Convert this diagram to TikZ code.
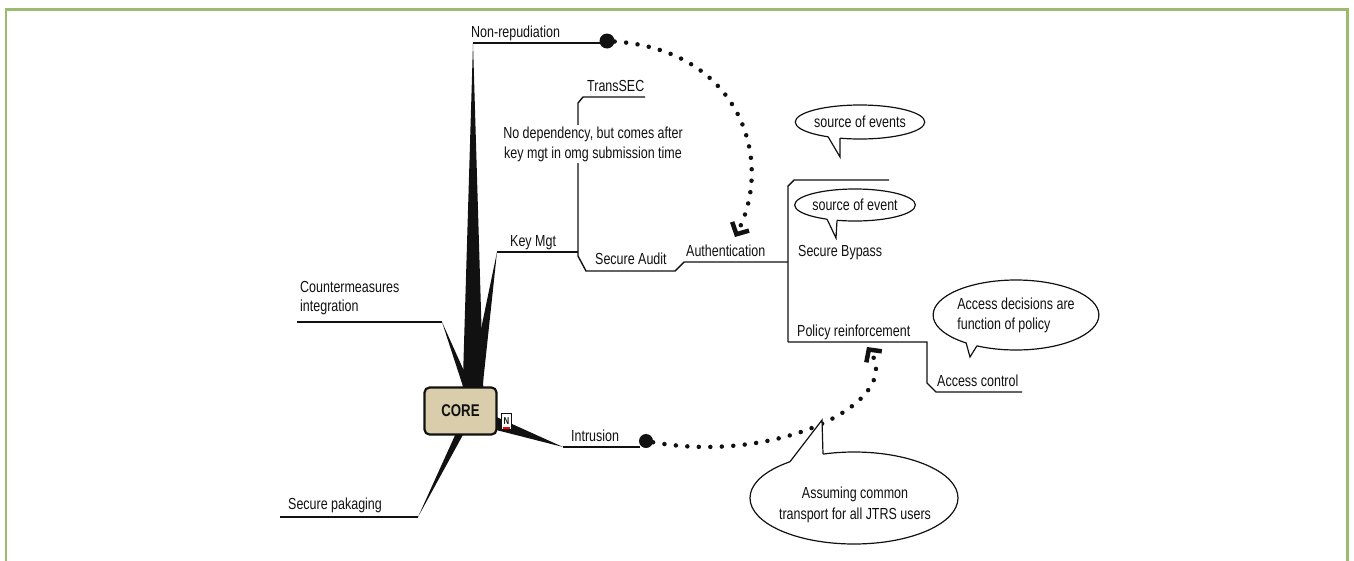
\documentclass[tikz,border=0pt]{standalone}
\usepackage{fontspec}
\setmainfont{Liberation Sans}[FakeStretch=0.78]
\usetikzlibrary{arrows.meta,shapes.geometric}
\definecolor{framegreen}{HTML}{9DBB6E}
\definecolor{coretan}{HTML}{D9CDAC}
\definecolor{ink}{HTML}{111111}
\begin{document}
\begin{tikzpicture}[x=1pt,y=-1pt,
  every node/.style={inner sep=0pt, text=ink},
  lbl/.style={anchor=base west, font=\fontsize{16}{20}\selectfont},
  branch/.style={draw=ink, line width=1.4pt},
  wedgefill/.style={fill=ink},
  dotline/.style={draw=ink, line width=4.5pt, line cap=round, dash pattern=on 0pt off 11.5pt},
  arrowL/.style={-{Straight Barb[length=9pt, width=19pt, line width=4.5pt]}},
  bubble/.style={ellipse, draw=ink, line width=1.2pt, fill=white, font=\fontsize{16}{20}\selectfont},
  tailfill/.style={fill=white},
  tailline/.style={draw=ink, line width=1.2pt},
  bigdot/.style={circle, fill=ink, minimum size=15pt},
]
\useasboundingbox (0,0) rectangle (1354,560);
\draw[framegreen, line width=2.6pt] (6,9.5) rectangle (1347.5,640);

% branch points
\coordinate (nrP) at (473,43);
\coordinate (nrE) at (600,43);
\coordinate (kmP) at (497,252);
\coordinate (kmJ) at (578,252);
\coordinate (cmP) at (442,322);
\coordinate (cmE) at (297,322);
\coordinate (spP) at (418,517);
\coordinate (spE) at (280,517);
\coordinate (inP) at (563,447);
\coordinate (inE) at (640,447);
\coordinate (auJ) at (788,262);
\coordinate (poJ) at (788,342);
\coordinate (poE) at (927,342);

% wedges
\fill[wedgefill] (462,411) -- (nrP) -- (484,411) -- cycle;
\fill[wedgefill] (464,411) -- (kmP) -- (480,411) -- cycle;
\fill[wedgefill] (471,411) -- (cmP) -- (482,411) -- cycle;
\fill[wedgefill] (466,411) -- (spP) -- (476,411) -- cycle;
\fill[wedgefill] (461,401) -- (inP) -- (461,421) -- cycle;

% core
\node[draw=ink, line width=2.2pt, fill=coretan, rounded corners=5pt,
  minimum width=72pt, minimum height=47pt,
  font=\bfseries\fontsize{17}{17}\selectfont] (core) at (460.5,411) {CORE};
\node[draw=ink, fill=white, line width=0.9pt, minimum width=10pt, minimum height=16pt,
  font=\bfseries\fontsize{10}{10}\selectfont, anchor=north west] (nic) at (501,413) {N};
\draw[red, line width=1.6pt] ([xshift=1.5pt,yshift=2pt]nic.south west) -- ([xshift=-1.5pt,yshift=2pt]nic.south east);

% Non-repudiation
\draw[branch] (nrP) -- (nrE);
\node[bigdot] (d1) at (607,41) {};
\node[lbl] (tnr) at (471,37) {Non-repudiation};

% Key Mgt
\draw[branch] (kmP) -- (kmJ);
\node[lbl] (tkm) at (510,246) {Key Mgt};
\draw[branch] (kmJ) -- (578,103) -- (583,97) -- (645,97);
\node[lbl] (tts) at (587,91) {TransSEC};
\node[fill=white, inner sep=2pt, align=center, font=\fontsize{16}{20}\selectfont] (note) at (593,144)
  {No dependency, but comes after\\key mgt in omg submission time};

% Secure Audit / Authentication
\draw[branch] (kmJ) -- (578,256) -- (586,271) -- (675,271) -- (684,262) -- (auJ);
\node[lbl] (tsa) at (595,264) {Secure Audit};
\node[lbl] (tau) at (686,256) {Authentication};
\node[lbl] (tsb) at (798,256) {Secure Bypass};
\draw[branch] (poJ) -- (788,186) -- (794,180) -- (889,180);
\draw[branch] (poJ) -- (poE) -- (927,383) -- (936,392) -- (1022,392);
\node[lbl] (tpr) at (797,336) {Policy reinforcement};
\node[lbl] (tac) at (937,386) {Access control};

% Intrusion
\draw[branch] (inP) -- (inE);
\node[bigdot, minimum size=14pt] (d2) at (646,441) {};
\node[lbl] (tin) at (571,441) {Intrusion};

% Countermeasures
\draw[branch] (cmE) -- (cmP);
\node[anchor=south west, align=left, font=\fontsize{16}{19}\selectfont] (tcm) at (300,315.5)
  {Countermeasures\\integration};

% Secure pakaging
\draw[branch] (spE) -- (spP);
\node[lbl] (tsp) at (288,509) {Secure pakaging};

% dotted connectors
\draw[dotline, arrowL] (d1) .. controls (740,50) and (775,160) .. (735,237);
\draw[dotline, arrowL] (d2) .. controls (780,465) and (905,400) .. (867,347);

% callouts
\node[bubble, minimum width=126pt, minimum height=34pt] (b1) at (860,122) {source of events};
\fill[tailfill] (828,133) -- (828,136.6) -- (840,157) -- (840,138.1) -- (840,134) -- cycle;
\draw[tailline] (828,136.6) -- (840,157) -- (840,138.1);

\node[bubble, minimum width=120pt, minimum height=32pt] (b2) at (855,205) {source of event};
\fill[tailfill] (827,215) -- (827,219.1) -- (836,238) -- (837,220.3) -- (837,216) -- cycle;
\draw[tailline] (827,219.1) -- (836,238) -- (837,220.3);

\node[bubble, minimum width=162pt, minimum height=70pt, align=left] (b3) at (1016,315)
  {Access decisions are\\function of policy};
\fill[tailfill] (966,338) -- (966,342.5) -- (970,357) -- (977,345.7) -- (977,341) -- cycle;
\draw[tailline] (966,342.5) -- (970,357) -- (977,345.7);

\node[bubble, minimum width=208pt, minimum height=92pt] (b4) at (854,498) {};
\node[align=center, font=\fontsize{16}{21}\selectfont] (b4t) at (855,505)
  {Assuming common\\transport for all JTRS users};
\fill[tailfill] (790,466) -- (790,461.7) -- (822,420) -- (823,454.1) -- (823,458) -- cycle;
\draw[tailline] (790,461.7) -- (822,420) -- (823,454.1);
\end{tikzpicture}
\end{document}
